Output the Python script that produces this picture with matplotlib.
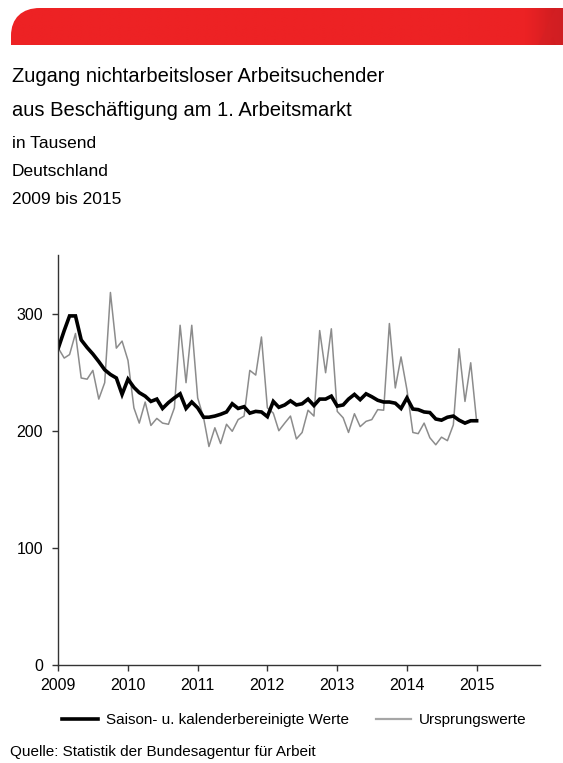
import numpy as np
import pandas as pd
import matplotlib
matplotlib.use('Agg')
import matplotlib.pyplot as plt
from matplotlib.path import Path
from matplotlib.patches import PathPatch, Polygon
from matplotlib.colors import LinearSegmentedColormap

plt.rcParams['font.family'] = ['Liberation Sans', 'DejaVu Sans']

# Monatswerte Jan 2009 bis Jan 2015, in Tausend
monate = pd.date_range('2009-01-01', '2015-01-01', freq='MS')
bereinigt = [270.5, 285.5, 298, 298, 277.5, 271, 265.5, 259, 252, 248, 245, 231,
             244, 237, 232.5, 229.5, 225, 227, 219, 224, 228, 231.5, 219, 224.5,
             219.5, 211.5, 211.5, 212.5, 214, 216, 223, 219, 220.5, 215, 216.5, 216,
             212, 225, 220, 222, 225.5, 222, 223, 227, 221.5, 227, 227, 229.5,
             221, 222, 227, 231, 226.5, 231.5, 229, 226, 224.5, 224.5, 223.5, 219,
             228, 218.5, 218, 216, 215.5, 210, 209, 211.5, 212.5, 209, 206.5, 208.5,
             208.5]
ursprung = [270.5, 262, 265, 283, 245, 244, 251.5, 227, 241, 318, 270.5, 276.5,
            260, 219.5, 206.5, 224.5, 204.5, 210.5, 206.5, 205.5, 219.5, 290, 241, 290,
            228, 211, 186.5, 202.5, 189, 205.5, 199.5, 209.5, 212.5, 251.5, 247.5, 280,
            219.5, 215, 200, 206.5, 212.5, 193, 198.5, 217.5, 212.5, 285.5, 249.5, 287,
            216.5, 211, 198.5, 214.5, 203.5, 208, 209.5, 218, 217.5, 291.5, 236.5, 263,
            235, 198.5, 197.5, 206.5, 194, 188, 194.5, 191.5, 205, 270, 225, 258,
            208]
jahre = ['2009', '2010', '2011', '2012', '2013', '2014', '2015']
y_ticks = [0, 100, 200, 300]

fig = plt.figure(figsize=(5.63, 7.63), dpi=100)

# Hintergrund-Achse in Pixelkoordinaten fuer Kopfbalken
bg = fig.add_axes([0, 0, 1, 1], zorder=0)
bg.set_xlim(0, 563)
bg.set_ylim(763, 0)
bg.axis('off')

verts = [(11, 45), (11, 36), (11, 18), (22, 8), (40, 8), (563, 8), (563, 45), (11, 45)]
codes = [Path.MOVETO, Path.LINETO, Path.CURVE4, Path.CURVE4, Path.CURVE4,
         Path.LINETO, Path.LINETO, Path.CLOSEPOLY]
balken = PathPatch(Path(verts, codes), facecolor='none', edgecolor='none')
bg.add_patch(balken)
rot = LinearSegmentedColormap.from_list('rot', ['#ed2224', '#ed2224', '#ec2224', '#c81c20'])
verlauf = np.linspace(0, 1, 300)[None, :] ** 6
bild = bg.imshow(verlauf, cmap=rot, extent=(0, 563, 45, 8), aspect='auto',
                 interpolation='bilinear')
bild.set_clip_path(balken)
logo = Polygon([(538, 45), (556, 8), (563, 8), (563, 45), (556, 45), (553, 36), (547, 45)],
               closed=True, facecolor='#d52024', edgecolor='none', alpha=0.6)
bg.add_patch(logo)
bg.set_xlim(0, 563)
bg.set_ylim(763, 0)

# Titel
fig.text(12 / 563, 1 - 77 / 763, 'Zugang nichtarbeitsloser Arbeitsuchender',
         fontsize=14.5, va='center', ha='left')
fig.text(12 / 563, 1 - 110 / 763, 'aus Beschäftigung am 1. Arbeitsmarkt',
         fontsize=14.5, va='center', ha='left')
fig.text(12 / 563, 1 - 144 / 763, 'in Tausend', fontsize=12.5, va='center', ha='left')
fig.text(12 / 563, 1 - 172 / 763, 'Deutschland', fontsize=12.5, va='center', ha='left')
fig.text(12 / 563, 1 - 200 / 763, '2009 bis 2015', fontsize=12.5, va='center', ha='left')

# Diagramm
ax = fig.add_axes([58.3 / 563, 1 - 665 / 763, (540.4 - 58.3) / 563, (665 - 255) / 763],
                  zorder=2)
ax.patch.set_alpha(0)
l2, = ax.plot(monate, ursprung, color='#8c8c8c', lw=1.1,
              label='Ursprungswerte')
l1, = ax.plot(monate, bereinigt, color='black', lw=2.6, solid_joinstyle='miter',
              label='Saison- u. kalenderbereinigte Werte')
ax.set_ylim(0, 350)
ax.set_xlim(pd.Timestamp('2009-01-01'), pd.Timestamp('2015-12-01'))
ax.set_yticks(y_ticks)
ax.set_xticks([pd.Timestamp(j + '-01-01') for j in jahre])
ax.set_xticklabels(jahre)
for s in ['top', 'right']:
    ax.spines[s].set_visible(False)
for s in ['left', 'bottom']:
    ax.spines[s].set_color('#333333')
    ax.spines[s].set_linewidth(1.0)
ax.tick_params(axis='y', direction='out', length=4, width=1, color='#333333',
               labelsize=11.5, pad=7)
ax.tick_params(axis='x', direction='out', length=4, width=1, color='#333333',
               labelsize=11.5, pad=5)

# Legende
h2 = plt.Line2D([], [], color='#a6a6a6', lw=1.6)
fig.legend([l1, h2], [l1.get_label(), l2.get_label()], loc='center',
           bbox_to_anchor=(0.523, 1 - 720 / 763), ncol=2, frameon=False,
           fontsize=11, handlelength=2.35, handletextpad=0.5, columnspacing=1.75)

fig.text(10 / 563, 1 - 752 / 763, 'Quelle: Statistik der Bundesagentur für Arbeit',
         fontsize=11, va='center', ha='left')

fig.savefig('out.png', dpi=100)
